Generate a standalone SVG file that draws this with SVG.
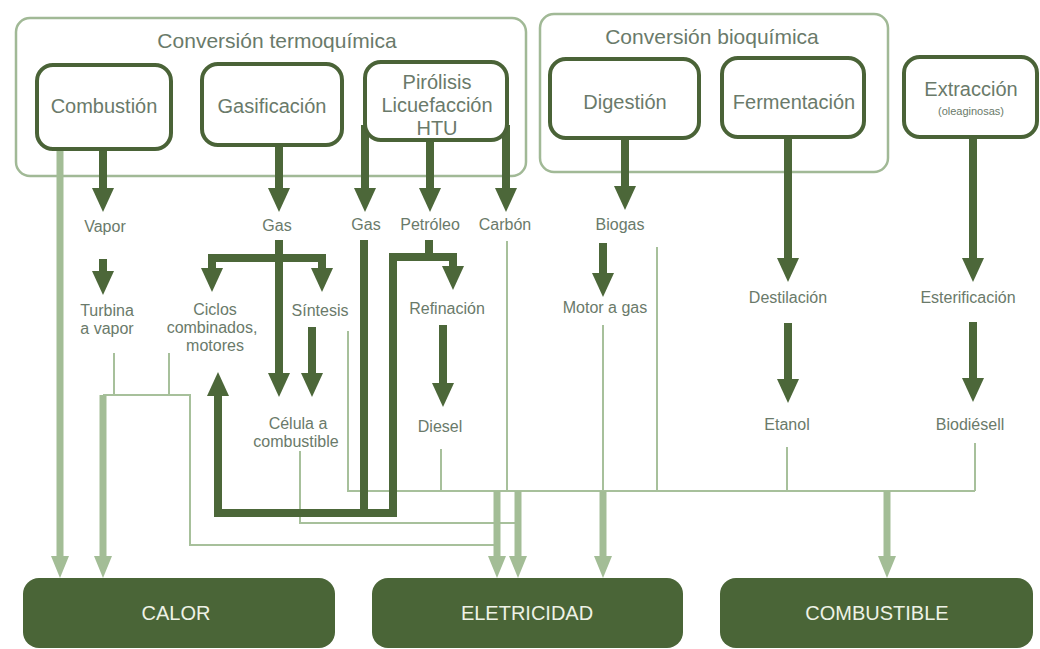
<svg xmlns="http://www.w3.org/2000/svg" width="1040" height="649" viewBox="0 0 1040 649">
<style>
.bg{fill:#ffffff}
.outer{fill:none;stroke:#a1b996;stroke-width:2.5}
.proc{fill:#ffffff;stroke:#4a6337;stroke-width:4}
.out{fill:#4a6537}
.t{font-family:"Liberation Sans",Arial,sans-serif;fill:#6a7a6a;text-anchor:middle}
.title{font-size:21px}
.box{font-size:20px}
.lbl{font-size:16px}
.small{font-size:11px}
.outt{font-family:"Liberation Sans",Arial,sans-serif;font-size:20px;fill:#eef2e6;text-anchor:middle}
.dk{fill:none;stroke:#4c6739;stroke-width:8}
.dka{fill:none;stroke:#4c6739;stroke-width:8;marker-end:url(#ad)}
.dkb{fill:none;stroke:#4c6739;stroke-width:8;marker-end:url(#ad);marker-start:url(#ad)}
.lt{fill:none;stroke:#a7c09b;stroke-width:2}
.lta{fill:none;stroke:#a3bd96;stroke-width:7;marker-end:url(#al)}
</style>
<defs>
<marker id="ad" viewBox="0 0 24 22" refX="0" refY="11" markerWidth="24" markerHeight="22" markerUnits="userSpaceOnUse" orient="auto-start-reverse"><path d="M0,0 L24,11 L0,22 z" fill="#4c6739"/></marker>
<marker id="al" viewBox="0 0 22 18" refX="0" refY="9" markerWidth="22" markerHeight="18" markerUnits="userSpaceOnUse" orient="auto"><path d="M0,0 L22,9 L0,18 z" fill="#a3bd96"/></marker>
</defs>
<rect class="bg" x="0" y="0" width="1040" height="649"/>

<g id="grupo-termoquimica">
<rect class="outer" x="16" y="18" width="510" height="158" rx="14"/>
<text class="t title" x="277" y="48">Conversión termoquímica</text>
</g>
<g id="grupo-bioquimica">
<rect class="outer" x="540" y="14" width="348" height="158" rx="14"/>
<text class="t title" x="712" y="44">Conversión bioquímica</text>
</g>

<g id="connectors">
<path class="lt" d="M114,353 V395 M169,353 V395 M103,395 H190 V545 H497"/>
<path class="lt" d="M300,451 V523 H518"/>
<path class="lt" d="M348,331 V491 H975"/>
<path class="lt" d="M441,449 V491 M507,241 V491 M603,325 V491 M657,247 V491 M787,447 V491 M975,443 V491"/>
<path class="lta" d="M60,149 V556"/>
<path class="lta" d="M103,395 V556"/>
<path class="lta" d="M497,491 V556"/>
<path class="lta" d="M518,491 V556"/>
<path class="lta" d="M603,491 V556"/>
<path class="lta" d="M887,491 V556"/>
<path class="dka" d="M103,149 V188"/>
<path class="dka" d="M279,145 V188"/>
<path class="dka" d="M365,125 V188"/>
<path class="dka" d="M430,140 V188"/>
<path class="dka" d="M506,125 V188"/>
<path class="dka" d="M625,138 V186"/>
<path class="dka" d="M788,137 V258"/>
<path class="dka" d="M973,137 V258"/>
<path class="dka" d="M103,259 V271"/>
<path class="dk" d="M279,240 V258"/>
<path class="dkb" d="M212,268 V258 H322 V268"/>
<path class="dka" d="M279,258 V373"/>
<path class="dka" d="M312,327 V373"/>
<path class="dk" d="M364,240 V513"/>
<path class="dk" d="M429,240 V257"/>
<path class="dkb" d="M453,266 V257 H393 V513 H218 V396"/>
<path class="dka" d="M443,325 V383"/>
<path class="dka" d="M603,243 V273"/>
<path class="dka" d="M788,323 V379"/>
<path class="dka" d="M973,322 V378"/>
</g>

<g id="combustion">
<rect class="proc" x="37" y="65" width="134" height="84" rx="16"/>
<text class="t box" x="104" y="113">Combustión</text>
</g>
<g id="gasificacion">
<rect class="proc" x="202" y="64" width="140" height="81" rx="16"/>
<text class="t box" x="272" y="113">Gasificación</text>
</g>
<g id="pirolisis">
<rect class="proc" x="365" y="62" width="142" height="78" rx="16"/>
<text class="t box" x="437" y="89">Pirólisis</text>
<text class="t box" x="437" y="112">Licuefacción</text>
<text class="t box" x="437" y="135">HTU</text>
</g>
<g id="digestion">
<rect class="proc" x="550" y="59" width="149" height="79" rx="16"/>
<text class="t box" x="625" y="109">Digestión</text>
</g>
<g id="fermentacion">
<rect class="proc" x="722" y="58" width="142" height="79" rx="16"/>
<text class="t box" x="794" y="109">Fermentación</text>
</g>
<g id="extraccion">
<rect class="proc" x="904" y="57" width="133" height="80" rx="16"/>
<text class="t box" x="971" y="96">Extracción</text>
<text class="t small" x="971" y="115">(oleaginosas)</text>
</g>

<g id="vapor"><text class="t lbl" x="105" y="232">Vapor</text></g>
<g id="gas1"><text class="t lbl" x="277" y="231">Gas</text></g>
<g id="gas2"><text class="t lbl" x="366" y="230">Gas</text></g>
<g id="petroleo"><text class="t lbl" x="430" y="230">Petróleo</text></g>
<g id="carbon"><text class="t lbl" x="505" y="230">Carbón</text></g>
<g id="biogas"><text class="t lbl" x="620" y="230">Biogas</text></g>
<g id="turbina"><text class="t lbl" x="107" y="316">Turbina</text><text class="t lbl" x="107" y="334">a vapor</text></g>
<g id="ciclos"><text class="t lbl" x="215" y="315">Ciclos</text><text class="t lbl" x="212" y="333">combinados,</text><text class="t lbl" x="215" y="351">motores</text></g>
<g id="sintesis"><text class="t lbl" x="320" y="316">Síntesis</text></g>
<g id="refinacion"><text class="t lbl" x="447" y="314">Refinación</text></g>
<g id="motor-gas"><text class="t lbl" x="605" y="313">Motor a gas</text></g>
<g id="destilacion"><text class="t lbl" x="788" y="303">Destilación</text></g>
<g id="esterificacion"><text class="t lbl" x="968" y="303">Esterificación</text></g>
<g id="celula"><text class="t lbl" x="298" y="429">Célula a</text><text class="t lbl" x="296" y="447">combustible</text></g>
<g id="diesel"><text class="t lbl" x="440" y="432">Diesel</text></g>
<g id="etanol"><text class="t lbl" x="787" y="430">Etanol</text></g>
<g id="biodiesel"><text class="t lbl" x="970" y="430">Biodiésell</text></g>

<g id="calor">
<rect class="out" x="23" y="578" width="312" height="70" rx="16"/>
<text class="outt" x="176" y="620">CALOR</text>
</g>
<g id="electricidad">
<rect class="out" x="372" y="578" width="311" height="70" rx="16"/>
<text class="outt" x="527" y="620">ELETRICIDAD</text>
</g>
<g id="combustible">
<rect class="out" x="720" y="578" width="313" height="70" rx="16"/>
<text class="outt" x="877" y="620">COMBUSTIBLE</text>
</g>
</svg>
